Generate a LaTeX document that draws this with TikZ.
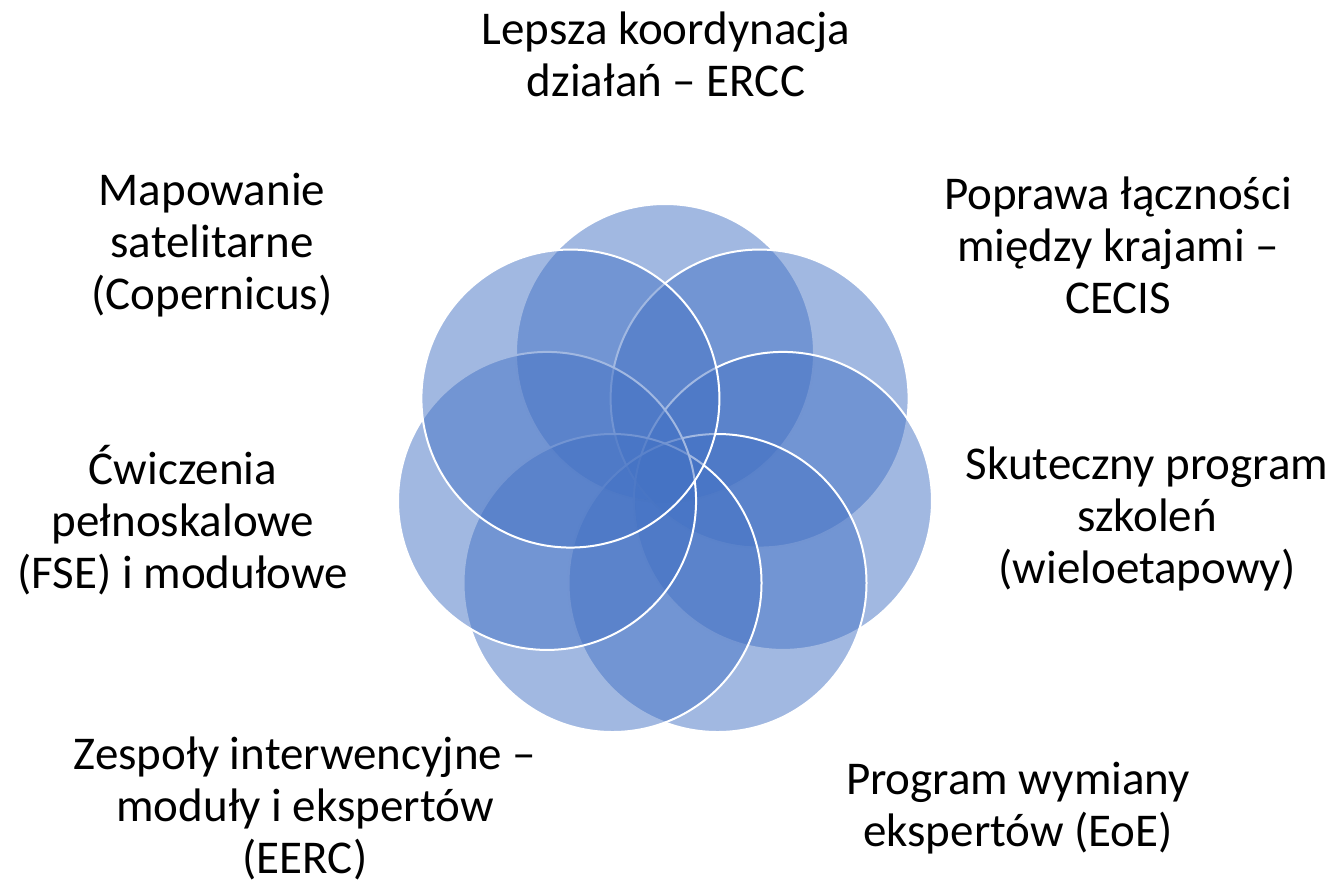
\documentclass[tikz,border=0pt]{standalone}
\usepackage{fontspec}
\setmainfont{Carlito}
\usetikzlibrary{calc}
\definecolor{petalblue}{HTML}{4472C4}
\tikzset{
  petal/.style={circle,minimum size=298pt,inner sep=0pt,fill=petalblue,
    fill opacity=.5,draw=white,draw opacity=1,line width=2pt},
  lbl/.style={align=center,font=\fontsize{47}{52}\selectfont,text=black}
}
\begin{document}
\begin{tikzpicture}[x=1pt,y=1pt]
\useasboundingbox (0,0) rectangle (1337,-885);
\coordinate (o) at (665,-474);
% seven petals, clockwise from the top
\foreach \i in {0,...,6}
{
    \node[petal] (p\i) at ($(o)+({90-\i*360/7}:121)$) {};
}
\node[lbl] (coord) at (666,-54) {Lepsza koordynacja\\działań – ERCC};
\node[lbl] (link) at (1118,-245) {Poprawa łączności\\między krajami –\\CECIS};
\node[lbl] (train) at (1147,-519) {Skuteczny program\\szkoleń\\(wieloetapowy)};
\node[lbl] (exchange) at (1018,-808) {Program wymiany\\ekspertów (EoE)};
\node[lbl] (teams) at (305,-808) {Zespoły interwencyjne –\\moduły i ekspertów\\(EERC)};
\node[lbl] (drills) at (183,-520) {Ćwiczenia\\pełnoskalowe\\(FSE) i modułowe};
\node[lbl] (mapping) at (212,-245) {Mapowanie\\satelitarne\\(Copernicus)};
\end{tikzpicture}
\end{document}
